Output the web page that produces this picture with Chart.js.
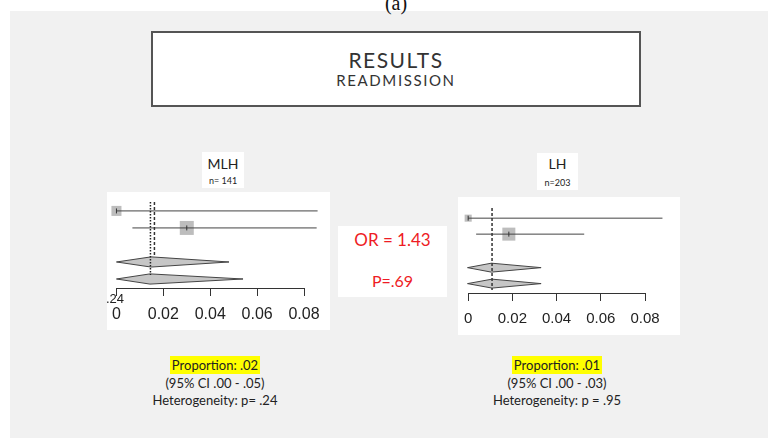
<!DOCTYPE html>
<html><head><meta charset="utf-8">
<script src="https://cdn.jsdelivr.net/npm/chart.js@4.4.1/dist/chart.umd.min.js"></script>
<style>
html,body{margin:0;padding:0;width:768px;height:438px;overflow:hidden;background:#fff;}
body{position:relative;font-family:Lato,"Noto Sans",sans-serif;color:#222;}
.a{position:absolute;white-space:nowrap;}
#slide{left:10px;top:11px;width:758px;height:427px;background:#f1f1f1;}
#cap{left:346px;width:100px;top:-7px;text-align:center;font:20px/20px "Liberation Serif",serif;color:#111;}
#titlebox{left:151px;top:31px;width:490px;height:76px;box-sizing:border-box;border:2px solid #555;background:#fff;}
.ctr{text-align:center;}
#t1{left:151px;width:490px;top:49px;font-size:21px;line-height:21px;letter-spacing:1.5px;color:#333;}
#t2{left:151px;width:490px;top:73px;font-size:15px;line-height:15px;letter-spacing:1.6px;color:#333;}
.wbox{background:#fff;}
.lab{font-size:14px;line-height:14px;color:#222;}
.n{font-size:9px;line-height:9px;color:#222;}
.red{color:#ee1c24;}
.hl{background:#ffff00;padding:1px 2px;}
.sum{font-size:13px;line-height:13px;color:#222;}
canvas{position:absolute;}
</style>
</head><body>
<div class="a" id="slide"></div>
<div class="a" id="cap">(a)</div>
<div class="a" id="titlebox"></div>
<div class="a ctr" id="t1">RESULTS</div>
<div class="a ctr" id="t2">READMISSION</div>

<div class="a wbox" style="left:202px;top:152px;width:42px;height:36px;"></div>
<div class="a ctr lab" style="left:202px;width:42px;top:157px;">MLH</div>
<div class="a ctr n" style="left:202px;width:42px;top:176px;">n= 141</div>
<div class="a wbox" style="left:537px;top:153px;width:41px;height:37px;"></div>
<div class="a ctr lab" style="left:537px;width:41px;top:157px;">LH</div>
<div class="a ctr n" style="left:537px;width:41px;top:178px;">n=203</div>

<div class="a wbox" style="left:107px;top:192px;width:223px;height:138px;"></div>
<div class="a wbox" style="left:458px;top:197px;width:222px;height:138px;"></div>
<canvas id="cL" width="227" height="146" style="left:103px;top:184px;width:227px;height:146px;"></canvas>
<canvas id="cR" width="225" height="142" style="left:455px;top:193px;width:225px;height:142px;"></canvas>
<div class="a" style="left:106px;top:292px;font:13px/14px 'Liberation Sans',Arial,sans-serif;color:#222;">.24</div>

<div class="a wbox" style="left:338px;top:226px;width:109px;height:71px;"></div>
<div class="a ctr red" id="orTxt" style="left:338px;width:109px;top:231px;font-size:17px;line-height:17px;"></div>
<div class="a ctr red" id="pTxt" style="left:338px;width:109px;top:273px;font-size:16px;line-height:16px;"></div>

<div class="a ctr sum" style="left:115px;width:200px;top:359px;"><span class="hl" id="propL"></span></div>
<div class="a ctr sum" id="ciL" style="left:115px;width:200px;top:377px;"></div>
<div class="a ctr sum" id="hetL" style="left:115px;width:200px;top:394px;"></div>
<div class="a ctr sum" style="left:457px;width:200px;top:359px;"><span class="hl" id="propR"></span></div>
<div class="a ctr sum" id="ciR" style="left:457px;width:200px;top:377px;"></div>
<div class="a ctr sum" id="hetR" style="left:457px;width:200px;top:394px;"></div>

<script>
// ---------------- data ----------------
const xTicks = [0, 0.02, 0.04, 0.06, 0.08];
const xTickLabels = ['0', '0.02', '0.04', '0.06', '0.08'];

// MLH (left panel)
const mlhStudyEst  = [0.000, 0.030];
const mlhStudyLow  = [0.000, 0.0068];
const mlhStudyHigh = [0.0858, 0.0854];
const mlhSummaryEst  = [0.0148, 0.0143];
const mlhSummaryLow  = [0.000, 0.000];
const mlhSummaryHigh = [0.048, 0.054];
const mlhRefDashed = 0.0162;
const mlhRefDotted = 0.0145;

// LH (right panel)
const lhStudyEst  = [0.000, 0.0184];
const lhStudyLow  = [0.000, 0.0036];
const lhStudyHigh = [0.0879, 0.0525];
const lhSummaryEst  = [0.0105, 0.0108];
const lhSummaryLow  = [-0.0003, -0.0003];
const lhSummaryHigh = [0.033, 0.033];
const lhRefDashed = 0.0108;

// text results
const orValue = '1.43';
const pValue = '.69';
const mlhProportion = '.02', mlhCI = ['.00', '.05'], mlhHet = '.24';
const lhProportion = '.01', lhCI = ['.00', '.03'], lhHet = '.95';

document.getElementById('orTxt').textContent = 'OR = ' + orValue;
document.getElementById('pTxt').textContent = 'P=' + pValue;
document.getElementById('propL').textContent = 'Proportion: ' + mlhProportion;
document.getElementById('ciL').textContent = '(95% CI ' + mlhCI[0] + ' - ' + mlhCI[1] + ')';
document.getElementById('hetL').textContent = 'Heterogeneity: p= ' + mlhHet;
document.getElementById('propR').textContent = 'Proportion: ' + lhProportion;
document.getElementById('ciR').textContent = '(95% CI ' + lhCI[0] + ' - ' + lhCI[1] + ')';
document.getElementById('hetR').textContent = 'Heterogeneity: p = ' + lhHet;

function makeForest(id, d, L) {
  const ds = [];
  d.sEst.forEach((est, i) => {
    const r = L.sumRows[i];
    const upIndex = ds.length;
    ds.push({ data: [{x: d.sLo[i], y: r}, {x: est, y: r - L.dh}, {x: d.sHi[i], y: r}],
      showLine: true, pointRadius: 0, borderColor: '#444', borderWidth: 1, fill: false, clip: false, order: 2 });
    ds.push({ data: [{x: d.sLo[i], y: r}, {x: est, y: r + L.dh}, {x: d.sHi[i], y: r}],
      showLine: true, pointRadius: 0, borderColor: '#444', borderWidth: 1, fill: upIndex,
      backgroundColor: '#c6c6c6', clip: false, order: 2 });
  });
  ds.push({ data: d.est.map((v, i) => ({x: v, y: L.rows[i]})), pointStyle: 'rect',
    pointRadius: L.sq, backgroundColor: '#bdbdbd', borderWidth: 0, clip: false, order: 3 });
  d.est.forEach((v, i) => {
    ds.push({ data: [{x: d.lo[i], y: L.rows[i]}, {x: d.hi[i], y: L.rows[i]}], showLine: true,
      pointRadius: 0, borderColor: '#444', borderWidth: 1, clip: false, order: 1 });
  });
  ds.push({ data: d.est.map((v, i) => ({x: v, y: L.rows[i]})), pointStyle: 'line', rotation: 90,
    pointRadius: 2.5, borderColor: '#333', borderWidth: 1, clip: false, order: 0 });
  d.refs.forEach(rf => {
    ds.push({ data: [{x: rf.x, y: rf.y0}, {x: rf.x, y: rf.y1}], showLine: true, pointRadius: 0,
      borderColor: rf.c, borderWidth: rf.w, borderDash: rf.dash, clip: false, order: 0 });
  });

  return new Chart(document.getElementById(id), {
    type: 'scatter',
    data: { datasets: ds },
    options: {
      responsive: false, animation: false, events: [],
      layout: { padding: L.pad },
      plugins: { legend: { display: false }, tooltip: { enabled: false } },
      scales: {
        x: { type: 'linear', min: 0, max: 0.08,
          afterBuildTicks: s => { s.ticks = xTicks.map(v => ({ value: v })); },
          afterFit: s => { s.height = L.axisH; },
          ticks: { callback: (v, i) => xTickLabels[i], color: '#222', padding: L.tickPad,
            font: { family: 'Liberation Sans', size: L.fs }, maxRotation: 0, autoSkip: false },
          grid: { drawOnChartArea: false, drawTicks: true, tickLength: 8, color: '#333', lineWidth: 1 },
          border: { display: true, color: '#333', width: 1 } },
        y: { type: 'linear', display: false, reverse: true, min: 0, max: L.ymax }
      }
    }
  });
}

makeForest('cL', {
  est: mlhStudyEst, lo: mlhStudyLow, hi: mlhStudyHigh,
  sEst: mlhSummaryEst, sLo: mlhSummaryLow, sHi: mlhSummaryHigh,
  refs: [ { x: mlhRefDashed, y0: 0.47, y1: 3.6, dash: [3, 2], w: 1.5, c: '#333' },
          { x: mlhRefDotted, y0: 0.47, y1: 4.76, dash: [1.5, 1.5], w: 1.5, c: '#222' } ]
}, { rows: [1, 2], sumRows: [4, 5], dh: 0.3, sq: [7.1, 9.9], ymax: 94 / 17,
     pad: { left: 0, right: 26, top: 0, bottom: 0 }, axisH: 42, fs: 16, tickPad: 9 });

makeForest('cR', {
  est: lhStudyEst, lo: lhStudyLow, hi: lhStudyHigh,
  sEst: lhSummaryEst, sLo: lhSummaryLow, sHi: lhSummaryHigh,
  refs: [ { x: lhRefDashed, y0: 0.37, y1: 5.5, dash: [3, 2], w: 1.5, c: '#333' } ]
}, { rows: [1, 2], sumRows: [4.1, 5.1], dh: 0.28, sq: [5, 9.2], ymax: 91 / 16,
     pad: { left: 0, right: 35, top: 0, bottom: 0 }, axisH: 42, fs: 15, tickPad: 9 });
</script>
</body></html>
